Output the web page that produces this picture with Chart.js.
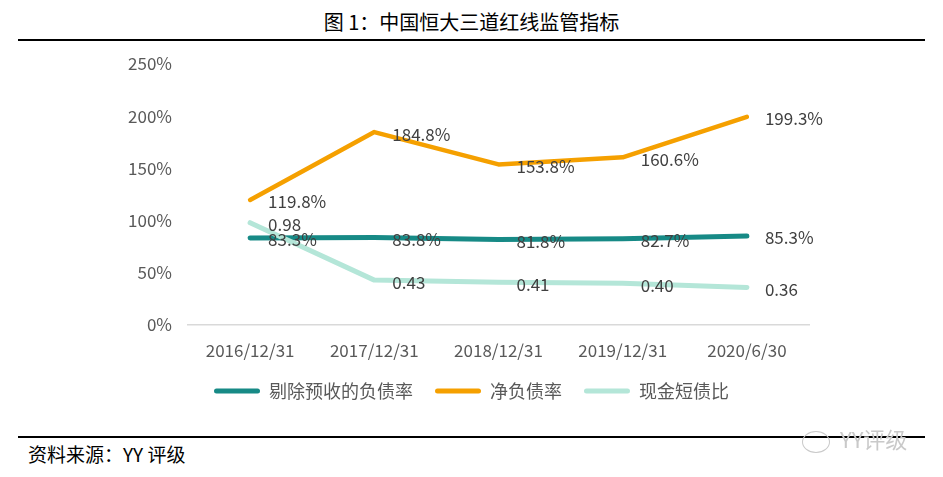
<!DOCTYPE html>
<html>
<head>
<meta charset="utf-8">
<script src="https://cdn.jsdelivr.net/npm/chart.js@4"></script>
<style>
  body { margin:0; background:#fff; font-family:"Noto Sans CJK SC","Noto Sans",sans-serif; }
  #wrap { position:relative; width:943px; height:477px; overflow:hidden; }
  #title { position:absolute; left:0; width:943px; top:7px; text-align:center; font-size:20px; color:#000; }
  .rule { position:absolute; left:18px; width:907px; height:2px; background:#000; }
  #source { position:absolute; left:28px; top:440px; font-size:19px; color:#000; }
  #mark { position:absolute; left:802px; top:422px; font-size:22px; color:#c9c9c9; }
  #mark .b1 { display:inline-block; width:26px; height:20px; border:1px solid #c9c9c9; border-radius:50%; vertical-align:middle; margin-right:10px; }
  canvas { position:absolute; left:0; top:0; }
</style>
</head>
<body>
<div id="wrap">
  <div id="title">图 1：中国恒大三道红线监管指标</div>
  <div class="rule" style="top:39px"></div>
  <div class="rule" style="top:436px"></div>
  <div id="source">资料来源：YY 评级</div>
  <canvas id="myChart" width="943" height="477"></canvas>
  <div id="mark"><span class="b1"></span>YY评级</div>
</div>
<script>
var dates=["2016/12/31","2017/12/31","2018/12/31","2019/12/31","2020/6/30"]
var debtRatio=[83.3,83.8,81.8,82.7,85.3]
var netDebtRatio=[119.8,184.8,153.8,160.6,199.3]
var cashRatio=[0.98,0.43,0.41,0.40,0.36]
var yTicks=[0,50,100,150,200,250]

var font="'Noto Sans CJK SC','Noto Sans',sans-serif"

// data labels to the right of every point
var pointLabels={
    id:"pointLabels",
    afterDatasetsDraw:function(chart){
        var ctx=chart.ctx
        ctx.save()
        ctx.font="17px "+font
        ctx.fillStyle="#404040"
        ctx.textBaseline="middle"
        ctx.textAlign="left"
        chart.data.datasets.forEach(function(ds,i){
            var meta=chart.getDatasetMeta(i)
            meta.data.forEach(function(pt,j){
                ctx.fillText(ds.labelText[j],pt.x+18,pt.y+2)
            })
        })
        ctx.restore()
    }
}

var myChart=document.getElementById("myChart").getContext("2d")
var chart=new Chart(myChart,{
    type:"line",
    data:{
        labels:dates,
        datasets:[
            {
                label:"剔除预收的负债率",
                data:debtRatio,
                labelText:debtRatio.map(function(v){return v.toFixed(1)+"%"}),
                borderColor:"#178A86",
                backgroundColor:"#178A86",
                borderWidth:5,
                order:3
            },
            {
                label:"净负债率",
                data:netDebtRatio,
                labelText:netDebtRatio.map(function(v){return v.toFixed(1)+"%"}),
                borderColor:"#F5A000",
                backgroundColor:"#F5A000",
                borderWidth:4.5,
                order:2
            },
            {
                label:"现金短债比",
                data:cashRatio.map(function(v){return v*100}),
                labelText:cashRatio.map(function(v){return v.toFixed(2)}),
                borderColor:"#B4E6D8",
                backgroundColor:"#B4E6D8",
                borderWidth:5,
                order:1
            }
        ]
    },
    options:{
        responsive:false,
        animation:false,
        elements:{point:{radius:0},line:{tension:0,borderCapStyle:"round",borderJoinStyle:"round"}},
        layout:{padding:{left:0,right:0,top:64,bottom:67}},
        plugins:{
            tooltip:{enabled:false},
            legend:{
                position:"bottom",
                labels:{
                    boxWidth:46,
                    boxHeight:5,
                    padding:22,
                    color:"#595959",
                    font:{family:font,size:18},
                    useBorderRadius:true,
                    borderRadius:2.5,
                    sort:function(a,b){return a.datasetIndex-b.datasetIndex},
                    generateLabels:function(c){
                        return Chart.defaults.plugins.legend.labels.generateLabels(c).map(function(l){
                            l.lineWidth=0
                            return l
                        })
                    }
                }
            }
        },
        scales:{
            x:{
                offset:true,
                grid:{display:false},
                border:{display:true,color:"#D9D9D9",width:1.5},
                ticks:{color:"#595959",font:{family:font,size:17},padding:7,maxRotation:0},
                afterFit:function(s){s.height=35}
            },
            y:{
                min:0,max:250,
                grid:{display:false},
                border:{display:false},
                afterBuildTicks:function(s){s.ticks=yTicks.map(function(v){return {value:v}})},
                ticks:{color:"#595959",font:{family:font,size:17},padding:8,callback:function(v){return v+"%"}},
                afterFit:function(s){s.width=188}
            },
            // empty right-hand box that keeps room for the end labels
            yRight:{
                type:"linear",
                position:"right",
                grid:{display:false},
                border:{display:false},
                ticks:{display:false},
                afterFit:function(s){s.width=134}
            }
        }
    },
    plugins:[pointLabels]
})
</script>
</body>
</html>
